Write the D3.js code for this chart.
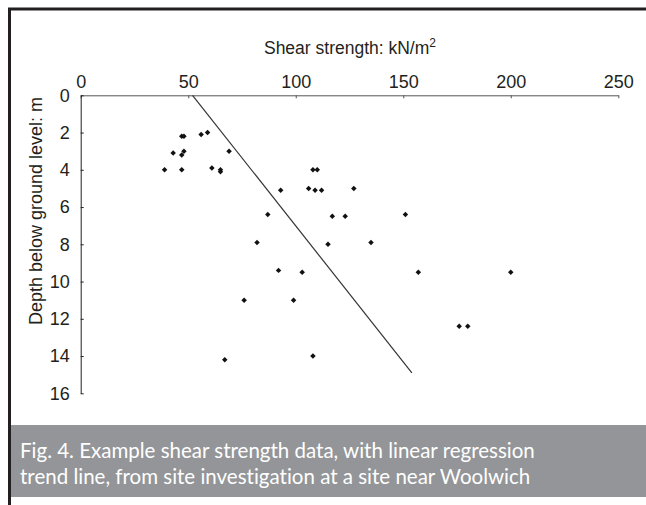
<!DOCTYPE html>
<html lang="en">
<head>
  <meta charset="UTF-8">
  <title>Shear strength vs depth</title>
  <script src="https://d3js.org/d3.v7.min.js"></script>
  <style>
    body { margin: 0; background: #fff; }
    .caption { font-family: Lato, "Open Sans", sans-serif; font-size: 20.5px; fill: #fff; font-variant-ligatures: none; }
  </style>
</head>
<body>
  <div id="chart"></div>

  <script>
    // shear strength (kN/m2) and depth (m)
    const strength = [39, 43, 47, 48, 47, 48, 47, 56, 59, 61, 65, 65, 69,
      93, 108, 110, 106, 109, 112, 127, 87, 117, 123, 151, 82, 115, 135,
      92, 103, 157, 200, 76, 99, 176, 180, 67, 108];
    const depth = [4.0, 3.1, 2.2, 2.2, 3.2, 3.0, 4.0, 2.1, 2.0, 3.9, 4.0, 4.1, 3.0,
      5.1, 4.0, 4.0, 5.0, 5.1, 5.1, 5.0, 6.4, 6.5, 6.5, 6.4, 7.9, 8.0, 7.9,
      9.4, 9.5, 9.5, 9.5, 11.0, 11.0, 12.4, 12.4, 14.2, 14.0];

    // regression trend line end points
    const trendStrength = [52, 154];
    const trendDepth = [0, 14.9];

    const xTicks = [0, 50, 100, 150, 200, 250];
    const yTicks = [0, 2, 4, 6, 8, 10, 12, 14, 16];

    const captionLines = [
      "Fig. 4. Example shear strength data, with linear regression",
      "trend line, from site investigation at a site near Woolwich"
    ];

    const W = 646, H = 505;
    const axisFont = "'Liberation Sans', Arial, sans-serif";

    const svg = d3.select("#chart")
      .append("svg")
      .attr("width", W)
      .attr("height", H);

    // frame: thick left and top rules
    svg.append("path")
      .attr("d", "M9.5," + H + "V9H" + W)
      .attr("fill", "none")
      .attr("stroke", "#231f20")
      .attr("stroke-width", 3);

    const x = d3.scaleLinear().domain([0, 250]).range([80.7, 618.3]);
    const y = d3.scaleLinear().domain([0, 16]).range([95.3, 393.3]);

    // x axis along the top, ticks pointing into the plot
    const xAxis = svg.append("g")
      .attr("transform", "translate(0," + y(0) + ")")
      .call(d3.axisTop(x).tickValues(xTicks).tickSizeInner(-3).tickSizeOuter(0).tickPadding(7));
    xAxis.select(".domain").attr("stroke", "#555");
    xAxis.selectAll(".tick line").attr("stroke", "#555");
    xAxis.selectAll(".tick text").attr("dy", "0em");

    // y axis on the left, ticks pointing into the plot
    const yAxis = svg.append("g")
      .attr("transform", "translate(" + x(0) + ",0)")
      .call(d3.axisLeft(y).tickValues(yTicks).tickSizeInner(-3).tickSizeOuter(0).tickPadding(11));
    yAxis.select(".domain").attr("stroke", "#222");
    yAxis.selectAll(".tick line").attr("stroke", "#222");

    svg.selectAll(".tick text")
      .attr("fill", "#231f20")
      .style("font-family", axisFont)
      .style("font-size", "18px");

    // axis titles
    const title = svg.append("text")
      .attr("x", 350)
      .attr("y", 54)
      .attr("text-anchor", "middle")
      .style("font-family", axisFont)
      .style("font-size", "17.5px")
      .style("fill", "#231f20")
      .text("Shear strength: kN/m");
    title.append("tspan")
      .attr("dy", -7)
      .style("font-size", "12px")
      .text("2");

    svg.append("text")
      .attr("transform", "translate(42,211) rotate(-90)")
      .attr("text-anchor", "middle")
      .style("font-family", axisFont)
      .style("font-size", "18px")
      .style("fill", "#231f20")
      .text("Depth below ground level: m");

    // trend line
    const trend = trendStrength.map((s, i) => ({ s: s, d: trendDepth[i] }));
    svg.append("path")
      .datum(trend)
      .attr("fill", "none")
      .attr("stroke", "#333")
      .attr("stroke-width", 1.2)
      .attr("d", d3.line().x(d => x(d.s)).y(d => y(d.d)));

    // data points as small diamonds
    const points = strength.map((s, i) => ({ s: s, d: depth[i] }));
    svg.selectAll(".pt")
      .data(points)
      .enter()
      .append("path")
      .attr("class", "pt")
      .attr("d", d3.symbol(d3.symbolSquare, 15))
      .attr("transform", d => "translate(" + x(d.s) + "," + y(d.d) + ") rotate(45)")
      .attr("fill", "#111");

    // caption band
    svg.append("rect")
      .attr("x", 11)
      .attr("y", 425)
      .attr("width", W - 11)
      .attr("height", 72)
      .attr("fill", "#939598");

    svg.selectAll(".caption")
      .data(captionLines)
      .enter()
      .append("text")
      .attr("class", "caption")
      .attr("x", 20)
      .attr("y", (d, i) => 458 + i * 26)
      .text(d => d);
  </script>
</body>
</html>
